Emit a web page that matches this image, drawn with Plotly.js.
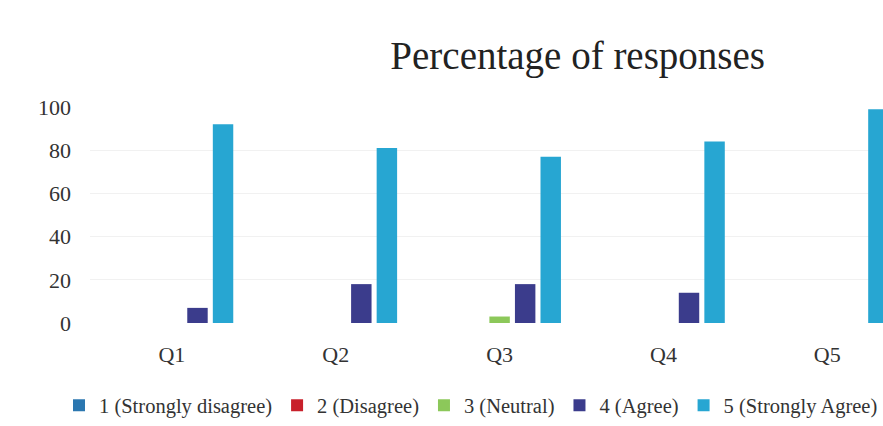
<!DOCTYPE html>
<html>
<head>
<meta charset="utf-8">
<script src="https://cdn.plot.ly/plotly-3.0.1.min.js"></script>
<style>html,body{margin:0;padding:0;background:#fff;}#chart{width:883px;height:426px;}</style>
</head>
<body>
<div id="chart"></div>
<script>
const categories = ["Q1", "Q2", "Q3", "Q4", "Q5"];
const seriesNames = ["1 (Strongly disagree)", "2 (Disagree)", "3 (Neutral)", "4 (Agree)", "5 (Strongly Agree)"];
const stronglyDisagree = [0, 0, 0, 0, 0];
const disagree = [0, 0, 0, 0, 0];
const neutral = [0, 0, 3, 0, 0];
const agree = [7, 18, 18, 14, 0];
const stronglyAgree = [92, 81, 77, 84, 99];
const yTicks = [0, 20, 40, 60, 80, 100];

const seriesValues = [stronglyDisagree, disagree, neutral, agree, stronglyAgree];
const colors = ["#2b77b0", "#c8202b", "#8cc85a", "#3b3c8c", "#27a6d2"];

const traces = seriesValues.map((vals, i) => ({
  type: "bar",
  name: seriesNames[i],
  x: categories,
  y: vals,
  marker: {color: colors[i]},
  hoverinfo: "x+y+name"
}));

const font = "Liberation Serif, Times New Roman, serif";
const layout = {
  width: 883, height: 426,
  margin: {l: 89.5, r: 0, t: 107, b: 99},
  paper_bgcolor: "#ffffff",
  plot_bgcolor: "#ffffff",
  font: {family: font, color: "#333333"},
  title: {
    text: "Percentage of responses",
    font: {family: font, size: 39, color: "#222222"},
    xref: "paper", x: 0.615, xanchor: "center",
    yref: "container", y: 1 - 55/426, yanchor: "middle"
  },
  barmode: "group",
  bargap: 0.22,
  bargroupgap: 0.2,
  xaxis: {
    type: "category",
    range: [-0.5, 4.34],
    showgrid: false, zeroline: false, showline: false,
    ticks: "", ticklabelstandoff: 16,
    tickfont: {family: font, size: 22, color: "#333333"}
  },
  yaxis: {
    range: [0, 100],
    tickvals: yTicks,
    showgrid: true, gridcolor: "#f1f1f1", gridwidth: 1,
    zeroline: false, showline: false,
    ticks: "", ticklabelstandoff: 18,
    tickfont: {family: font, size: 22, color: "#333333"}
  },
  legend: {
    orientation: "h",
    x: -0.038, xanchor: "left",
    y: -(411 - 327) / 220, yanchor: "middle",
    font: {family: font, size: 20.5, color: "#333333"},
    itemwidth: 30
  },
  showlegend: true
};

Plotly.newPlot("chart", traces, layout, {displayModeBar: false, staticPlot: true});
</script>
</body>
</html>
